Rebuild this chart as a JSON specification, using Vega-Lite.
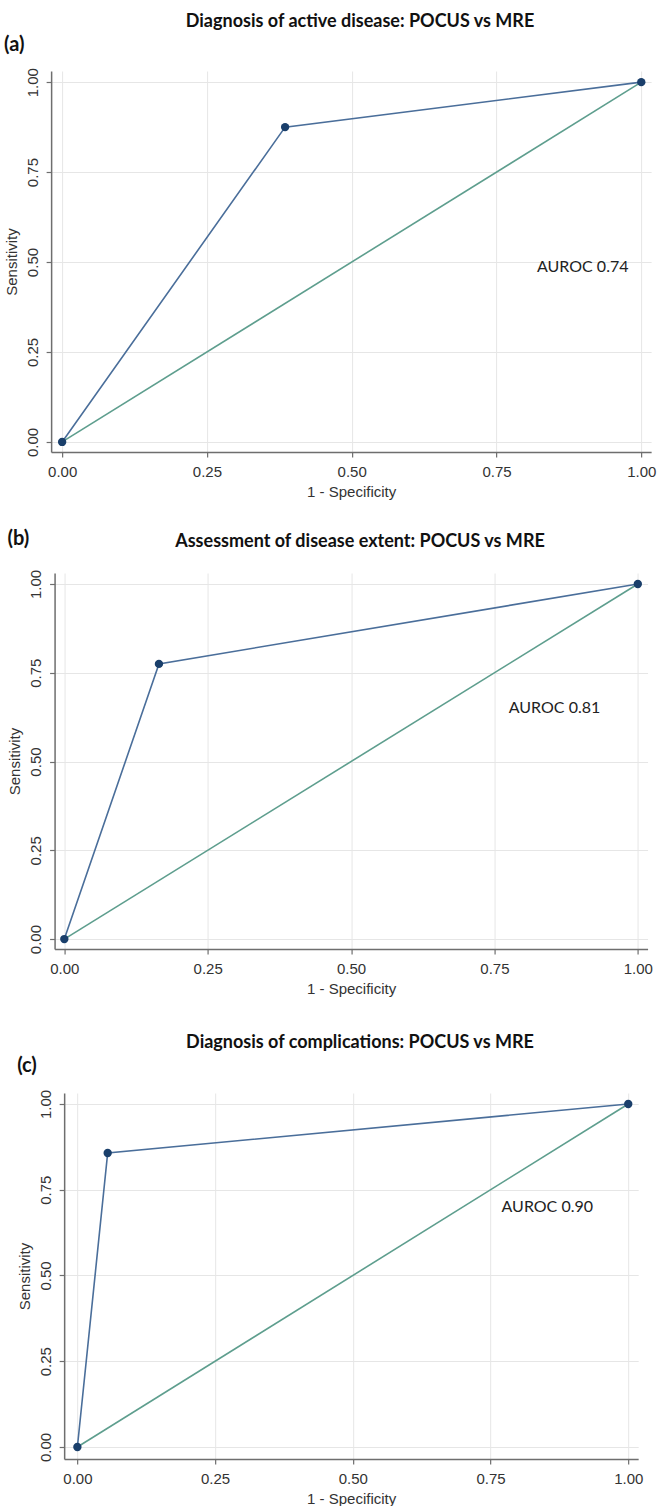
{
  "$schema": "https://vega.github.io/schema/vega-lite/v6.json",
  "background": "white",
  "padding": {"left": 4, "top": 12, "right": 4, "bottom": 2},
  "spacing": 30,
  "center": true,
  "datasets": {
    "roc": [
      {"panel": "a", "fpr": 0, "tpr": 0, "ord": 0},
      {"panel": "a", "fpr": 0.385, "tpr": 0.875, "ord": 1},
      {"panel": "a", "fpr": 1, "tpr": 1, "ord": 2},
      {"panel": "b", "fpr": 0, "tpr": 0, "ord": 0},
      {"panel": "b", "fpr": 0.165, "tpr": 0.775, "ord": 1},
      {"panel": "b", "fpr": 1, "tpr": 1, "ord": 2},
      {"panel": "c", "fpr": 0, "tpr": 0, "ord": 0},
      {"panel": "c", "fpr": 0.055, "tpr": 0.857, "ord": 1},
      {"panel": "c", "fpr": 1, "tpr": 1, "ord": 2}
    ],
    "ref": [
      {"panel": "a", "fpr": 0, "tpr": 0},
      {"panel": "a", "fpr": 1, "tpr": 1},
      {"panel": "b", "fpr": 0, "tpr": 0},
      {"panel": "b", "fpr": 1, "tpr": 1},
      {"panel": "c", "fpr": 0, "tpr": 0},
      {"panel": "c", "fpr": 1, "tpr": 1}
    ],
    "auc": [
      {"panel": "a", "fpr": 0.82, "tpr": 0.485, "label": "AUROC 0.74"},
      {"panel": "b", "fpr": 0.775, "tpr": 0.65, "label": "AUROC 0.81"},
      {"panel": "c", "fpr": 0.77, "tpr": 0.7, "label": "AUROC 0.90"}
    ]
  },
  "config": {
    "view": {"stroke": null},
    "axis": {
      "grid": true,
      "gridColor": "#e6e6e6",
      "gridWidth": 1,
      "domainColor": "#6e6e6e",
      "domainWidth": 1.5,
      "tickColor": "#6e6e6e",
      "tickSize": 5,
      "tickWidth": 1.2,
      "labelFont": "Liberation Sans",
      "labelFontSize": 15,
      "labelColor": "#333333",
      "titleFont": "Liberation Sans",
      "titleFontSize": 15,
      "titleFontWeight": "normal",
      "titleColor": "#333333"
    },
    "title": {"font": "Lato", "fontWeight": "bold", "fontSize": 18, "color": "#111111"}
  },
  "vconcat": [
    {
      "title": {"text": "Diagnosis of active disease: POCUS vs MRE", "anchor": "middle", "offset": 4, "dx": 30},
      "vconcat": [
        {
          "title": {"text": "(a)", "anchor": "start", "frame": "bounds", "offset": 13, "fontSize": 20},
          "width": 600,
          "height": 381,
          "encoding": {
            "x": {"field": "fpr", "type": "quantitative", "scale": {"domain": [-0.019, 1.017], "nice": false, "zero": false},
                  "axis": {"title": "1 - Specificity", "values": [0, 0.25, 0.5, 0.75, 1], "format": ".2f", "labelPadding": 7, "titlePadding": 5}},
            "y": {"field": "tpr", "type": "quantitative", "scale": {"domain": [-0.028, 1.031], "nice": false, "zero": false},
                  "axis": {"title": "Sensitivity", "values": [0, 0.25, 0.5, 0.75, 1], "format": ".2f", "labelAngle": 270, "labelAlign": "center", "labelBaseline": "bottom", "labelPadding": 6, "titlePadding": 6}}
          },
          "layer": [
            {"data": {"name": "ref"}, "transform": [{"filter": "datum.panel === 'a'"}], "mark": {"type": "line", "color": "#5e9e8e", "strokeWidth": 1.6}},
            {"data": {"name": "roc"}, "transform": [{"filter": "datum.panel === 'a'"}], "mark": {"type": "line", "color": "#4a6e9a", "strokeWidth": 1.6}, "encoding": {"order": {"field": "ord"}}},
            {"data": {"name": "roc"}, "transform": [{"filter": "datum.panel === 'a'"}], "mark": {"type": "circle", "color": "#1a3f6b", "opacity": 1, "size": 70}},
            {"data": {"name": "auc"}, "transform": [{"filter": "datum.panel === 'a'"}], "mark": {"type": "text", "align": "left", "baseline": "middle", "font": "Lato", "fontSize": 16, "color": "#222222"}, "encoding": {"text": {"field": "label"}}}
          ]
        }
      ]
    },
    {
      "title": {"text": "Assessment of disease extent: POCUS vs MRE", "anchor": "middle", "offset": -22, "dx": 30},
      "vconcat": [
        {
          "title": {"text": "(b)", "anchor": "start", "frame": "bounds", "offset": 20, "fontSize": 20},
          "width": 593,
          "height": 376,
          "encoding": {
            "x": {"field": "fpr", "type": "quantitative", "scale": {"domain": [-0.017, 1.017], "nice": false, "zero": false},
                  "axis": {"title": ["1 - Specificity", ""], "titleLineHeight": 8, "values": [0, 0.25, 0.5, 0.75, 1], "format": ".2f", "labelPadding": 7, "titlePadding": 5}},
            "y": {"field": "tpr", "type": "quantitative", "scale": {"domain": [-0.028, 1.031], "nice": false, "zero": false},
                  "axis": {"title": "Sensitivity", "values": [0, 0.25, 0.5, 0.75, 1], "format": ".2f", "labelAngle": 270, "labelAlign": "center", "labelBaseline": "bottom", "labelPadding": 6, "titlePadding": 6}}
          },
          "layer": [
            {"data": {"name": "ref"}, "transform": [{"filter": "datum.panel === 'b'"}], "mark": {"type": "line", "color": "#5e9e8e", "strokeWidth": 1.6}},
            {"data": {"name": "roc"}, "transform": [{"filter": "datum.panel === 'b'"}], "mark": {"type": "line", "color": "#4a6e9a", "strokeWidth": 1.6}, "encoding": {"order": {"field": "ord"}}},
            {"data": {"name": "roc"}, "transform": [{"filter": "datum.panel === 'b'"}], "mark": {"type": "circle", "color": "#1a3f6b", "opacity": 1, "size": 70}},
            {"data": {"name": "auc"}, "transform": [{"filter": "datum.panel === 'b'"}], "mark": {"type": "text", "align": "left", "baseline": "middle", "font": "Lato", "fontSize": 16, "color": "#222222"}, "encoding": {"text": {"field": "label"}}}
          ]
        }
      ]
    },
    {
      "title": {"text": "Diagnosis of complications: POCUS vs MRE", "anchor": "middle", "offset": 4, "dx": 30},
      "vconcat": [
        {
          "title": {"text": "(c)", "anchor": "start", "frame": "bounds", "offset": 13, "fontSize": 20},
          "width": 574,
          "height": 366,
          "encoding": {
            "x": {"field": "fpr", "type": "quantitative", "scale": {"domain": [-0.024, 1.018], "nice": false, "zero": false},
                  "axis": {"title": "1 - Specificity", "values": [0, 0.25, 0.5, 0.75, 1], "format": ".2f", "labelPadding": 7, "titlePadding": 5}},
            "y": {"field": "tpr", "type": "quantitative", "scale": {"domain": [-0.035, 1.032], "nice": false, "zero": false},
                  "axis": {"title": "Sensitivity", "values": [0, 0.25, 0.5, 0.75, 1], "format": ".2f", "labelAngle": 270, "labelAlign": "center", "labelBaseline": "bottom", "labelPadding": 6, "titlePadding": 6}}
          },
          "layer": [
            {"data": {"name": "ref"}, "transform": [{"filter": "datum.panel === 'c'"}], "mark": {"type": "line", "color": "#5e9e8e", "strokeWidth": 1.6}},
            {"data": {"name": "roc"}, "transform": [{"filter": "datum.panel === 'c'"}], "mark": {"type": "line", "color": "#4a6e9a", "strokeWidth": 1.6}, "encoding": {"order": {"field": "ord"}}},
            {"data": {"name": "roc"}, "transform": [{"filter": "datum.panel === 'c'"}], "mark": {"type": "circle", "color": "#1a3f6b", "opacity": 1, "size": 70}},
            {"data": {"name": "auc"}, "transform": [{"filter": "datum.panel === 'c'"}], "mark": {"type": "text", "align": "left", "baseline": "middle", "font": "Lato", "fontSize": 16, "color": "#222222"}, "encoding": {"text": {"field": "label"}}}
          ]
        }
      ]
    }
  ]
}
